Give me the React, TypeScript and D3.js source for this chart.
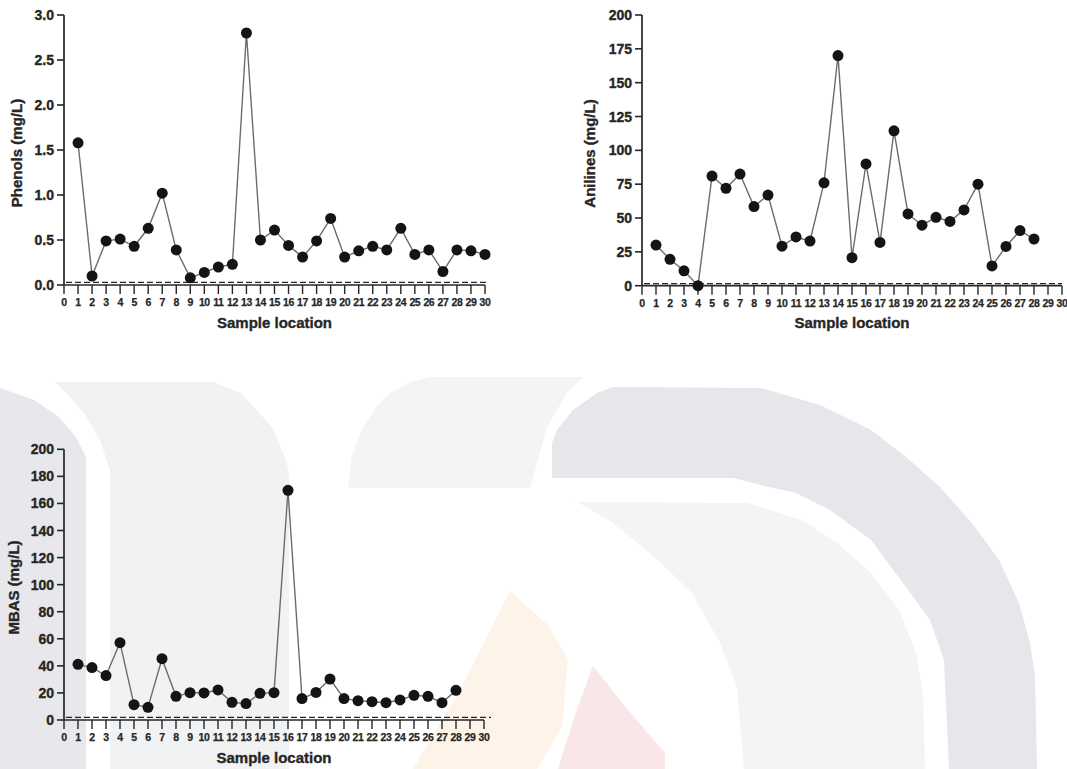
import React from 'react';
import * as d3 from 'd3';

// Sample locations along the x axis
const locationTicks = [0, 1, 2, 3, 4, 5, 6, 7, 8, 9, 10, 11, 12, 13, 14, 15, 16, 17, 18, 19, 20, 21, 22, 23, 24, 25, 26, 27, 28, 29, 30];

// Phenols, locations 1..30 (mg/L)
const phenols = [1.58, 0.10, 0.49, 0.51, 0.43, 0.63, 1.02, 0.39, 0.08, 0.14, 0.20, 0.23, 2.80, 0.50, 0.61, 0.44, 0.31, 0.49, 0.74, 0.31, 0.38, 0.43, 0.39, 0.63, 0.34, 0.39, 0.15, 0.39, 0.38, 0.34];
// Anilines, locations 1..28 (mg/L)
const anilines = [30, 19.5, 11, 0, 81, 72, 82.5, 58.5, 67, 29.2, 36, 33, 76, 170, 20.7, 90, 32, 114.4, 53, 44.7, 50.5, 47.5, 56, 75, 14.6, 29, 40.7, 34.5];
// MBAS, locations 1..28 (mg/L)
const mbas = [41.1, 38.7, 32.8, 57.1, 11.3, 9.4, 45.3, 17.5, 20.2, 20, 22.2, 13.1, 12.1, 19.7, 20.2, 169.7, 15.8, 20.4, 30.3, 15.8, 14.3, 13.5, 12.8, 14.8, 18.2, 17.5, 12.8, 21.9];

// Reference (dashed) levels
const phenolsLimit = 0.03;
const anilinesLimit = 1.5;
const mbasLimit = 2;

const phenolsTicks = [0, 0.5, 1, 1.5, 2, 2.5, 3];
const anilinesTicks = [0, 25, 50, 75, 100, 125, 150, 175, 200];
const mbasTicks = [0, 20, 40, 60, 80, 100, 120, 140, 160, 180, 200];

const FONT = '"Liberation Sans", Arial, Helvetica, sans-serif';
const INK = '#262626';

type PanelProps = {
  left: number;
  right: number;
  top: number;
  bottom: number;
  yMax: number;
  yTicks: number[];
  yFormat: (v: number) => string;
  values: number[];
  limit: number;
  limitEnd: number;
  yLabel: string;
  yLabelX: number;
  yLabelY: number;
  xLabelY: number;
};

function Panel(p: PanelProps) {
  const x = d3.scaleLinear().domain([0, 30]).range([p.left, p.right]);
  const y = d3.scaleLinear().domain([0, p.yMax]).range([p.bottom, p.top]);
  const pts = p.values.map((v, i) => [i + 1, v] as [number, number]);
  const line = d3
    .line<[number, number]>()
    .x((d) => x(d[0]))
    .y((d) => y(d[1]));
  const xMid = (p.left + p.right) / 2;
  return (
    <g fontFamily={FONT} fontWeight="bold" fill={INK}>
      {/* y axis */}
      <line x1={p.left} x2={p.left} y1={p.top} y2={p.bottom} stroke={INK} strokeWidth={1.7} />
      {p.yTicks.map((t) => (
        <g key={'y' + t}>
          <line x1={p.left - 7} x2={p.left} y1={y(t)} y2={y(t)} stroke={INK} strokeWidth={1.6} />
          <text x={p.left - 10} y={y(t)} dy="0.36em" textAnchor="end" fontSize={14} stroke={INK} strokeWidth={0.35}>
            {p.yFormat(t)}
          </text>
        </g>
      ))}
      {/* x axis */}
      <line x1={p.left} x2={p.right} y1={p.bottom} y2={p.bottom} stroke={INK} strokeWidth={1.7} />
      {locationTicks.map((t) => (
        <g key={'x' + t}>
          <line x1={x(t)} x2={x(t)} y1={p.bottom} y2={p.bottom + 9} stroke={INK} strokeWidth={1.4} />
          <text x={x(t)} y={p.bottom + 21} textAnchor="middle" fontSize={10.5} letterSpacing={-0.4} stroke={INK} strokeWidth={0.25}>
            {t}
          </text>
        </g>
      ))}
      {/* dashed reference level */}
      <line
        x1={p.left + 2}
        x2={p.limitEnd}
        y1={y(p.limit)}
        y2={y(p.limit)}
        stroke={INK}
        strokeWidth={1.3}
        strokeDasharray="6,3"
      />
      {/* series */}
      <path d={line(pts) || ''} fill="none" stroke="#6c6c6c" strokeWidth={1.4} />
      {pts.map((d, i) => (
        <circle key={'c' + i} cx={x(d[0])} cy={y(d[1])} r={5.5} fill="#141414" />
      ))}
      {/* titles */}
      <text x={xMid} y={p.xLabelY} textAnchor="middle" fontSize={15} stroke={INK} strokeWidth={0.35}>
        Sample location
      </text>
      <text
        transform={`translate(${p.yLabelX},${p.yLabelY}) rotate(-90)`}
        textAnchor="middle"
        fontSize={15}
        stroke={INK}
        strokeWidth={0.35}
      >
        {p.yLabel}
      </text>
    </g>
  );
}

// Faint institutional emblem behind the lower panel
const emblem: { fill: string; pts: [number, number][] }[] = [
  {
    fill: '#e8e8ec',
    pts: [[0, 388], [34, 400], [59, 417], [76, 437], [86, 457], [86, 769], [0, 769]],
  },
  {
    fill: '#f1f2f4',
    pts: [[55, 382], [213, 382], [241, 393], [272, 427], [286, 460], [289, 475], [289, 769], [110, 769], [110, 470], [100, 440], [85, 415], [68, 395]],
  },
  {
    fill: '#f4f4f6',
    pts: [[348, 488], [352, 455], [363, 427], [378, 405], [390, 393], [410, 382], [430, 377], [583, 377], [567, 393], [547, 427], [530, 488]],
  },
  {
    fill: '#e6e6eb',
    pts: [[552, 478], [552, 443], [557, 430], [573, 410], [597, 393], [613, 387], [761, 388], [820, 405], [871, 430], [906, 457], [940, 487], [975, 527], [999, 560], [1019, 603], [1030, 643], [1035, 677], [1037, 769], [949, 769], [944, 660], [930, 620], [906, 587], [871, 540], [830, 510], [796, 493], [761, 485], [734, 478]],
  },
  {
    fill: '#f3f4f6',
    pts: [[572, 502], [747, 503], [802, 520], [837, 543], [871, 573], [899, 610], [916, 653], [923, 693], [925, 769], [744, 769], [737, 687], [720, 643], [692, 593], [658, 560], [613, 523], [579, 503]],
  },
  {
    fill: '#fdf3e8',
    pts: [[413, 769], [460, 690], [510, 591], [548, 625], [568, 660], [562, 727], [537, 769]],
  },
  {
    fill: '#f9e6e8',
    pts: [[558, 769], [575, 715], [593, 666], [628, 710], [665, 753], [665, 769]],
  },
];

export default function App() {
  return (
    <div style={{ position: 'absolute', left: 0, top: 0 }}>
      <svg width={1067} height={769} style={{ display: 'block', background: '#ffffff' }}>
        <g>
          {emblem.map((s, i) => (
            <polygon key={i} points={s.pts.map((q) => q.join(',')).join(' ')} fill={s.fill} />
          ))}
        </g>
        <Panel
          left={64}
          right={485}
          top={15}
          bottom={285}
          yMax={3}
          yTicks={phenolsTicks}
          yFormat={d3.format('.1f')}
          values={phenols}
          limit={phenolsLimit}
          limitEnd={488}
          yLabel="Phenols (mg/L)"
          yLabelX={22}
          yLabelY={153}
          xLabelY={328}
        />
        <Panel
          left={642}
          right={1062}
          top={15}
          bottom={285.7}
          yMax={200}
          yTicks={anilinesTicks}
          yFormat={d3.format('d')}
          values={anilines}
          limit={anilinesLimit}
          limitEnd={1062}
          yLabel="Anilines (mg/L)"
          yLabelX={595}
          yLabelY={153.5}
          xLabelY={328}
        />
        <Panel
          left={64}
          right={484}
          top={449.3}
          bottom={720}
          yMax={200}
          yTicks={mbasTicks}
          yFormat={d3.format('d')}
          values={mbas}
          limit={mbasLimit}
          limitEnd={491}
          yLabel="MBAS (mg/L)"
          yLabelX={19}
          yLabelY={587.5}
          xLabelY={763}
        />
      </svg>
    </div>
  );
}
